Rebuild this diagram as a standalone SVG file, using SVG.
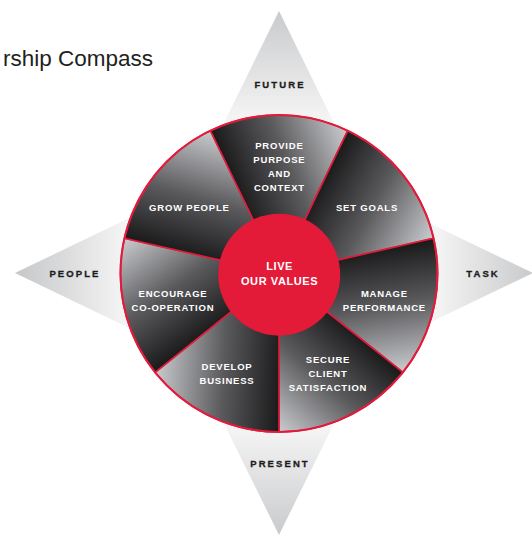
<svg xmlns="http://www.w3.org/2000/svg" width="532" height="536" viewBox="0 0 532 536">
  <style>
    .title { font-family: "Liberation Sans", Arial, sans-serif; font-size: 22.5px; fill: #231f20; }
    .point { font-family: "Liberation Sans", Arial, sans-serif; font-size: 9.5px; font-weight: bold; letter-spacing: 2.1px; fill: #1c1c1c; stroke: #1c1c1c; stroke-width: 0.3; text-anchor: middle; }
    .seg-label { font-family: "Liberation Sans", Arial, sans-serif; font-size: 9.5px; font-weight: bold; letter-spacing: 0.8px; fill: #ffffff; text-anchor: middle; }
    .core-label { font-family: "Liberation Sans", Arial, sans-serif; font-size: 11px; font-weight: bold; letter-spacing: 0.6px; fill: #ffffff; text-anchor: middle; }
    .wedge { fill: url(#segShade); stroke: #e21b3c; stroke-width: 1.6; stroke-linejoin: round; }
  </style>
  <defs>
    <!-- shading of one wheel segment, in the segment's own (rotated) frame -->
    <linearGradient id="segShade" gradientUnits="userSpaceOnUse" x1="-45" y1="-95" x2="68" y2="-142">
      <stop offset="0" stop-color="#1d1d1e"/>
      <stop offset="0.45" stop-color="#5a5a5d"/>
      <stop offset="1" stop-color="#c9cacd"/>
    </linearGradient>
    <linearGradient id="gTop" gradientUnits="userSpaceOnUse" x1="279" y1="11" x2="279" y2="118">
      <stop offset="0" stop-color="#c9cacc"/>
      <stop offset="1" stop-color="#f4f4f4"/>
    </linearGradient>
    <linearGradient id="gBottom" gradientUnits="userSpaceOnUse" x1="279" y1="535" x2="279" y2="430">
      <stop offset="0" stop-color="#c9cacc"/>
      <stop offset="1" stop-color="#f4f4f4"/>
    </linearGradient>
    <linearGradient id="gLeft" gradientUnits="userSpaceOnUse" x1="15" y1="273" x2="124" y2="273">
      <stop offset="0" stop-color="#c6c7c9"/>
      <stop offset="1" stop-color="#f4f4f4"/>
    </linearGradient>
    <linearGradient id="gRight" gradientUnits="userSpaceOnUse" x1="533" y1="273" x2="436" y2="273">
      <stop offset="0" stop-color="#c9cacc"/>
      <stop offset="1" stop-color="#f4f4f4"/>
    </linearGradient>
    <!-- one segment of the wheel, pointing up from the hub -->
    <path id="wedge" d="M0,0 L-68.77,-142.81 A158.5,158.5 0 0 1 68.77,-142.81 Z"/>
  </defs>

  <rect width="532" height="536" fill="#ffffff"/>

  <text class="title" x="153" y="66" text-anchor="end">rship Compass</text>

  <!-- compass points -->
  <g id="future">
    <polygon points="279,11 150,273.5 408,273.5" fill="url(#gTop)"/>
    <text class="point" x="280" y="88">FUTURE</text>
  </g>
  <g id="present">
    <polygon points="279,535 150,273.5 408,273.5" fill="url(#gBottom)"/>
    <text class="point" x="280" y="466.5">PRESENT</text>
  </g>
  <g id="people">
    <polygon points="15,273 279,146 279,400" fill="url(#gLeft)"/>
    <text class="point" x="75" y="276.5">PEOPLE</text>
  </g>
  <g id="task">
    <polygon points="533,273 279,151 279,395" fill="url(#gRight)"/>
    <text class="point" x="483" y="276.5">TASK</text>
  </g>

  <!-- wheel segments -->
  <g id="provide-purpose">
    <use href="#wedge" class="wedge" transform="translate(279,273.5)"/>
    <text class="seg-label" x="279.4" y="148.5">PROVIDE</text>
    <text class="seg-label" x="279.4" y="162.7">PURPOSE</text>
    <text class="seg-label" x="279.4" y="176.7">AND</text>
    <text class="seg-label" x="279.4" y="190.7">CONTEXT</text>
  </g>
  <g id="set-goals">
    <use href="#wedge" class="wedge" transform="translate(279,273.5) rotate(51.4286)"/>
    <text class="seg-label" x="367" y="210.8">SET GOALS</text>
  </g>
  <g id="manage-performance">
    <use href="#wedge" class="wedge" transform="translate(279,273.5) rotate(102.857)"/>
    <text class="seg-label" x="384.4" y="296.8">MANAGE</text>
    <text class="seg-label" x="384.4" y="310.5">PERFORMANCE</text>
  </g>
  <g id="secure-client">
    <use href="#wedge" class="wedge" transform="translate(279,273.5) rotate(154.286)"/>
    <text class="seg-label" x="328" y="362.8">SECURE</text>
    <text class="seg-label" x="328" y="376.8">CLIENT</text>
    <text class="seg-label" x="328" y="390.8">SATISFACTION</text>
  </g>
  <g id="develop-business">
    <use href="#wedge" class="wedge" transform="translate(279,273.5) rotate(205.714)"/>
    <text class="seg-label" x="227" y="370.2">DEVELOP</text>
    <text class="seg-label" x="227" y="383.8">BUSINESS</text>
  </g>
  <g id="encourage-cooperation">
    <use href="#wedge" class="wedge" transform="translate(279,273.5) rotate(257.143)"/>
    <text class="seg-label" x="173" y="296.8">ENCOURAGE</text>
    <text class="seg-label" x="173" y="310.5">CO-OPERATION</text>
  </g>
  <g id="grow-people">
    <use href="#wedge" class="wedge" transform="translate(279,273.5) rotate(308.571)"/>
    <text class="seg-label" x="189.4" y="210.8">GROW PEOPLE</text>
  </g>

  <!-- wheel rim -->
  <circle cx="279" cy="273.5" r="158.5" fill="none" stroke="#e21b3c" stroke-width="2"/>

  <!-- hub -->
  <g id="live-our-values">
    <circle cx="279.2" cy="274.7" r="61" fill="#e31a38"/>
    <text class="core-label" x="279.6" y="270">LIVE</text>
    <text class="core-label" x="279.6" y="285">OUR VALUES</text>
  </g>
</svg>
